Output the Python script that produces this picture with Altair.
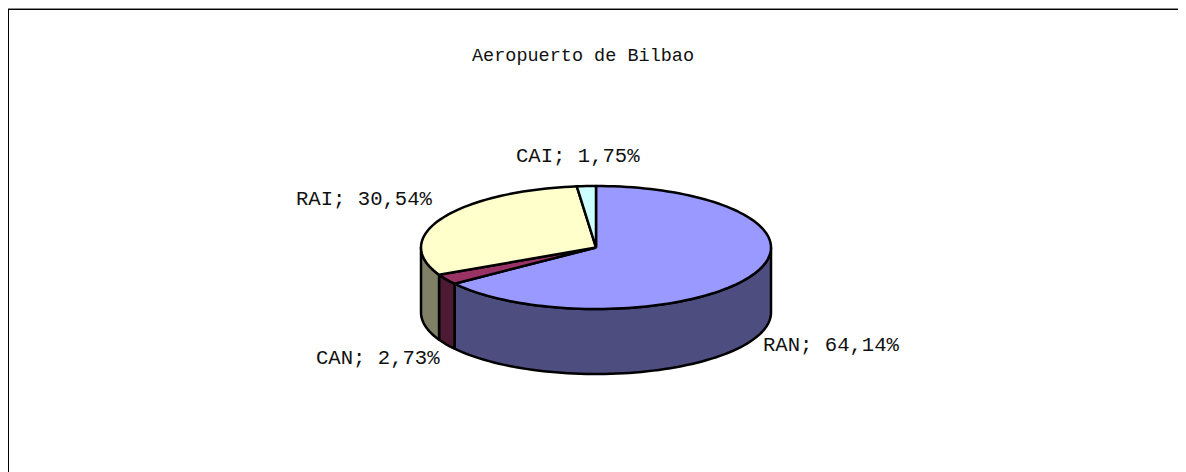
import math
import altair as alt
import pandas as pd

# Data
CATEGORIES = ["RAN", "CAN", "RAI", "CAI"]
SHARES_DRAWN = [64.98, 2.73, 30.54, 1.75]
LABELS = ["RAN; 64,14%", "CAN; 2,73%", "RAI; 30,54%", "CAI; 1,75%"]
TITLE = "Aeropuerto de Bilbao"
TOP_COLORS = ["#9999FF", "#993366", "#FFFFCC", "#CCFFFF"]
SIDE_COLORS = ["#4D4D80", "#4D1A33", "#808066", "#668080"]

# Geometry / layout (page pixels)
CX, CY, RX, RY, DEPTH = 596.0, 247.5, 175.0, 61.5, 65.0
W, H = 1170, 464
LABEL_POS = {"RAN": (763, 345), "CAN": (316, 358), "RAI": (296, 199), "CAI": (516, 156)}
FONT = "Liberation Mono"


def ellipse(t_deg, drop=0.0):
    t = math.radians(t_deg)
    return CX + RX * math.sin(t), CY - RY * math.cos(t) + drop


tops, sides = [], []
start = 0.0
for cat, share, top, side in zip(CATEGORIES, SHARES_DRAWN, TOP_COLORS, SIDE_COLORS):
    end = start + share * 3.6
    n = max(4, int((end - start) / 2))
    arc = [start + (end - start) * k / n for k in range(n + 1)]
    pts = [(CX, CY)] + [ellipse(a) for a in arc] + [(CX, CY)]
    for i, (x, y) in enumerate(pts):
        tops.append({"cat": cat, "i": i, "x": x, "y": y, "c": top})
    lo, hi = max(start, 90.0), min(end, 270.0)
    if hi > lo:
        m = max(2, int((hi - lo) / 2))
        vis = [lo + (hi - lo) * k / m for k in range(m + 1)]
        poly = [ellipse(a) for a in vis] + [ellipse(a, DEPTH) for a in reversed(vis)]
        poly.append(poly[0])
        for i, (x, y) in enumerate(poly):
            sides.append({"cat": cat, "i": i, "x": x, "y": y, "c": side})
    start = end

xs = alt.Scale(domain=[8, 8 + W], range=[0, W])
ys = alt.Scale(domain=[8 + H, 8], range=[H, 0])


def faces(rows):
    return (
        alt.Chart(pd.DataFrame(rows))
        .mark_line(stroke="black", strokeWidth=2.5, strokeJoin="round")
        .encode(
            x=alt.X("x:Q", scale=xs, axis=None),
            y=alt.Y("y:Q", scale=ys, axis=None),
            fill=alt.Fill("c:N", scale=None, legend=None),
            detail="cat:N",
            order="i:Q",
        )
    )


labels = pd.DataFrame(
    {
        "text": LABELS,
        "x": [LABEL_POS[c][0] for c in CATEGORIES],
        "y": [LABEL_POS[c][1] for c in CATEGORIES],
    }
)
label_layer = (
    alt.Chart(labels)
    .mark_text(font=FONT, fontSize=20.6, align="left", baseline="middle", color="#111111")
    .encode(x=alt.X("x:Q", scale=xs, axis=None), y=alt.Y("y:Q", scale=ys, axis=None), text="text:N")
)
title_layer = (
    alt.Chart(pd.DataFrame({"text": [TITLE], "x": [472], "y": [55]}))
    .mark_text(font=FONT, fontSize=18.5, align="left", baseline="middle", color="#111111")
    .encode(x=alt.X("x:Q", scale=xs, axis=None), y=alt.Y("y:Q", scale=ys, axis=None), text="text:N")
)

dummy = pd.DataFrame({"a": [0]})
top_grey = alt.Chart(dummy).mark_rule(color="#8c8c8c", strokeWidth=1).encode(
    x=alt.value(0), x2=alt.value(W), y=alt.value(0.5)
)
top_black = alt.Chart(dummy).mark_rule(color="black", strokeWidth=1).encode(
    x=alt.value(0), x2=alt.value(W), y=alt.value(1.5)
)
left_black = alt.Chart(dummy).mark_rule(color="black", strokeWidth=1).encode(
    x=alt.value(0.5), y=alt.value(1), y2=alt.value(H)
)

chart = (
    alt.layer(top_grey, top_black, left_black, faces(sides), faces(tops), label_layer, title_layer)
    .properties(
        width=W,
        height=H,
        padding=0,
        autosize=alt.AutoSizeParams(type="none"),
        background="white",
    )
    .configure_view(stroke=None)
)

chart.save("out.html", embed_options={"renderer": "svg", "actions": False})
